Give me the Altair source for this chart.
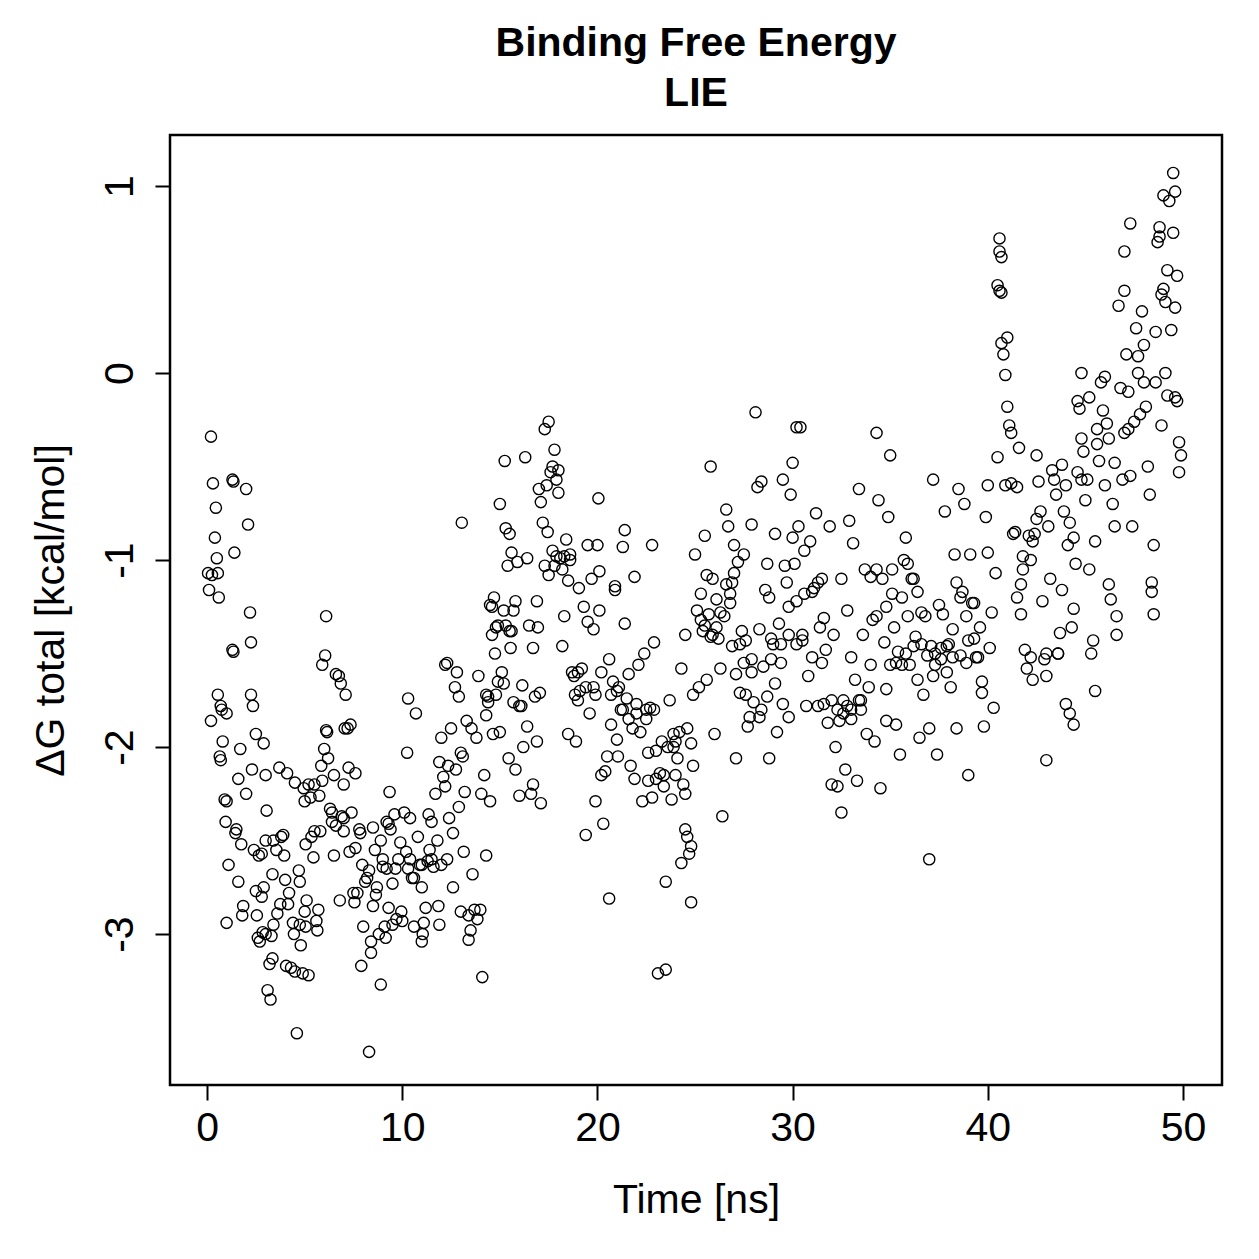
import altair as alt
import pandas as pd

# (time [ns], dG [kcal/mol]) pairs, grouped by time range
pts_00_05 = [
    (0.05,-1.07),(0.1,-1.16),(0.2,-0.34),(0.25,-1.08),(0.3,-0.59),(0.4,-0.88),(0.45,-0.72),(0.5,-0.99),
    (0.55,-1.07),(0.6,-1.2),(0.2,-1.86),(0.55,-1.72),(0.7,-1.78),(0.75,-1.8),(0.65,-2.05),(0.7,-2.07),
    (0.8,-1.97),(1.0,-1.82),(0.9,-2.28),(1.0,-2.29),(0.95,-2.4),(1.0,-2.94),(1.1,-2.63),
    (1.3,-0.57),(1.35,-0.58),(1.4,-0.96),(1.3,-1.48),(1.35,-1.49),(1.5,-2.44),(1.45,-2.46),(1.6,-2.17),
    (1.7,-2.01),(1.6,-2.72),(1.75,-2.52),(1.8,-2.9),(1.85,-2.85),(2.0,-0.62),(2.1,-0.81),(2.2,-1.28),
    (2.25,-1.44),(2.25,-1.72),(2.35,-1.78),(2.3,-2.12),(2.0,-2.25),
    (2.4,-2.55),(2.5,-2.77),(2.55,-2.9),(2.6,-3.02),(2.7,-3.04),(2.5,-1.93),(2.65,-2.58),(2.8,-2.57),
    (2.8,-2.8),(2.85,-2.99),(3.0,-3.0),(2.9,-1.98),(3.0,-2.15),(3.05,-2.34),(2.9,-2.75),(3.2,-3.16),
    (3.3,-3.01),(3.35,-3.13),(3.4,-2.95),(3.1,-3.3),(3.25,-3.35),(3.35,-2.68),(3.0,-2.5),
    (3.4,-2.5),(3.55,-2.55),(3.6,-2.89),(3.7,-2.11),(3.75,-2.84),(3.8,-2.48),(3.9,-2.47),(3.95,-2.58),
    (4.0,-2.71),(4.05,-3.17),(4.1,-2.14),(4.15,-2.84),(4.2,-2.78),(4.3,-3.18),(4.4,-2.94),(4.45,-3.0),
    (4.5,-2.19),(4.5,-3.2),(4.6,-3.53),(4.7,-2.66),(4.75,-2.72),(4.75,-2.95),(4.8,-3.06),(4.9,-3.21),
    (4.95,-2.22),(5.0,-2.29),(5.05,-2.52),(5.1,-2.82),(5.0,-2.88),(5.05,-2.96),(5.2,-3.22),
]
pts_05_10 = [
    (5.2,-2.2),(5.3,-2.27),(5.35,-2.48),(5.45,-2.59),(5.5,-2.2),(5.6,-2.93),(5.65,-2.98),(5.7,-2.87),
    (5.75,-2.26),(5.8,-2.45),(5.85,-2.1),(5.9,-2.18),(5.9,-1.56),(6.05,-1.51),(6.1,-1.3),(6.0,-2.01),
    (6.1,-1.91),(6.15,-1.92),(6.2,-2.06),(6.3,-2.33),(6.4,-2.35),(6.5,-2.58),(6.5,-2.15),(6.4,-2.4),
    (5.5,-2.45),(6.6,-2.42),(7.0,-2.2),
    (6.6,-1.61),(6.75,-1.62),(6.85,-1.66),(6.9,-2.37),(7.0,-2.38),(7.0,-2.45),(6.8,-2.82),(7.05,-1.9),
    (7.1,-1.72),(7.2,-1.9),(7.25,-2.11),(7.3,-2.56),(7.35,-1.88),(7.4,-2.35),(7.5,-2.78),(7.6,-2.54),
    (7.55,-2.83),(7.6,-2.14),(7.7,-2.78),(7.8,-2.44),(7.85,-2.46),(7.9,-3.17),(8.0,-2.96),(7.95,-2.63),
    (8.1,-2.72),(8.5,-2.85),(9.2,-2.65),
    (8.2,-2.7),(8.3,-2.66),(8.3,-3.63),(8.4,-3.04),(8.4,-3.1),(8.5,-2.43),(8.6,-2.55),(8.65,-2.79),
    (8.7,-2.75),(8.8,-3.0),(8.9,-3.27),(8.9,-2.5),(9.0,-2.64),(9.0,-2.6),(9.1,-2.96),(9.15,-3.02),
    (9.2,-2.4),(9.3,-2.41),(9.35,-2.24),(9.3,-2.86),(9.4,-2.44),(9.5,-2.73),(9.5,-2.95),(9.6,-2.36),
    (9.65,-2.65),(9.7,-2.92),(9.8,-2.6),(9.9,-2.51),(9.95,-2.88),(10.0,-2.93),
]
pts_10_15 = [
    (10.1,-2.35),(10.2,-2.56),(10.25,-2.03),(10.3,-1.74),(10.4,-2.38),(10.4,-2.6),(10.5,-2.7),(10.6,-2.7),
    (10.6,-2.96),(10.7,-1.82),(10.8,-2.48),(10.9,-2.63),(11.0,-2.63),(11.0,-3.04),(11.05,-3.0),(11.1,-2.94),
    (11.2,-2.86),(11.3,-2.61),(11.35,-2.36),(11.4,-2.55),(11.5,-2.6),(11.6,-2.64),(11.7,-2.25),(11.8,-2.5),
    (11.85,-2.85),(11.9,-2.95),(12.0,-2.63),(10.3,-2.65),(11.0,-2.75),(11.5,-2.4),(12.3,-2.6),(12.6,-2.75),
    (11.9,-2.08),(12.0,-1.95),(12.1,-2.16),(12.2,-1.56),(12.2,-2.21),(12.3,-1.55),(12.35,-2.1),(12.4,-2.38),
    (12.5,-1.9),(12.6,-2.46),(12.7,-1.68),(12.75,-2.12),(12.8,-1.6),(12.9,-1.73),(12.9,-2.32),(13.0,-2.03),
    (13.0,-2.88),(13.05,-0.8),(13.1,-2.05),(13.15,-2.56),(13.2,-2.24),(13.3,-1.86),(13.4,-2.9),(13.4,-3.03),
    (13.5,-2.98),(13.55,-1.9),(13.6,-2.68),(13.7,-2.87),(13.8,-1.95),(13.85,-2.92),(13.9,-1.62),(14.0,-2.87),
    (14.05,-2.25),(14.1,-3.23),(14.2,-2.15),(14.3,-2.58),(14.4,-1.76),
    (14.3,-1.83),(14.4,-1.73),(14.5,-1.24),(14.5,-2.29),(14.6,-1.4),(14.65,-1.93),(14.7,-1.2),(14.75,-1.5),
    (14.8,-1.36),(14.9,-1.65),(15.0,-0.7),(15.0,-1.92),
    (14.6,-1.25),(14.9,-1.35),(14.3,-1.72),(14.8,-1.72),
]
pts_15_20 = [
    (15.1,-1.6),(15.2,-1.27),(15.25,-0.47),(15.3,-0.83),(15.4,-1.03),(15.45,-2.06),(15.5,-0.86),(15.5,-1.38),
    (15.55,-1.47),(15.6,-0.96),(15.7,-1.27),(15.7,-1.76),(15.8,-1.22),(15.8,-2.12),(15.9,-1.01),(16.0,-1.78),
    (16.0,-2.26),(16.1,-1.78),(16.15,-1.67),(16.2,-2.0),(16.3,-0.45),(16.4,-0.99),(16.4,-1.89),(16.5,-1.35),
    (16.6,-2.25),(16.7,-1.47),(16.7,-2.2),(16.8,-1.73),(16.9,-1.22),(16.9,-1.97),(16.95,-1.36),
    (15.3,-1.35),(15.6,-1.38),(15.2,-1.66),
    (17.0,-0.62),(17.1,-0.69),(17.05,-1.71),(17.1,-2.3),(17.2,-0.8),(17.3,-0.3),(17.3,-1.03),(17.4,-0.6),
    (17.45,-0.85),(17.5,-0.26),(17.5,-1.08),(17.6,-0.53),(17.7,-0.5),(17.7,-0.95),(17.8,-1.03),(17.8,-0.41),
    (17.9,-0.57),(18.0,-0.52),(18.0,-0.64),(18.1,-0.99),(18.2,-1.05),(18.2,-1.46),(18.3,-1.3),(18.4,-0.89),
    (18.5,-1.11),(18.5,-1.93),(18.6,-1.0),(18.7,-1.6),(18.8,-1.62),(18.85,-1.72),(18.9,-1.97),(19.0,-1.75),
    (19.05,-1.15),(19.1,-1.7),(19.2,-1.58),(19.3,-1.25),(19.4,-2.47),(19.5,-0.92),
    (17.9,-0.98),(18.3,-0.98),(18.6,-0.97),(19.0,-1.6),(19.4,-1.68),(19.8,-1.68),
    (19.5,-1.33),(19.6,-1.82),(19.7,-1.1),(19.8,-1.37),(19.9,-1.72),(19.9,-2.29),(20.0,-0.92),
]
pts_20_25 = [
    (20.05,-0.67),(20.1,-1.06),(20.1,-1.27),(20.2,-2.15),(20.3,-2.41),(20.4,-2.13),(20.5,-2.05),(20.6,-1.53),
    (20.6,-2.81),(20.7,-1.88),(20.8,-1.65),(20.9,-1.16),(20.9,-1.14),(21.0,-1.96),(21.05,-2.05),(21.1,-1.68),
    (21.2,-1.8),(21.3,-0.93),(21.4,-0.84),(21.4,-1.34),(21.5,-1.74),(21.6,-1.61),(21.7,-2.1),(21.8,-1.9),
    (21.9,-2.17),(21.9,-1.09),(22.0,-1.77),(22.1,-1.56),(22.2,-1.92),
    (20.2,-1.6),(20.7,-1.72),(21.0,-1.7),(21.3,-1.8),(21.6,-1.85),(22.0,-1.82),(22.5,-1.85),(22.9,-1.8),
    (23.0,-2.02),(22.6,-2.18),(23.4,-2.15),(23.9,-2.0),(24.0,-2.15),(24.5,-2.25),(24.8,-1.98),
    (22.3,-2.29),(22.4,-1.5),(22.5,-1.8),(22.6,-2.03),(22.7,-1.79),(22.8,-0.92),(22.8,-2.27),(22.9,-1.44),
    (23.0,-2.17),(23.1,-3.21),(23.2,-2.14),(23.3,-1.97),(23.4,-2.21),(23.5,-3.19),(23.5,-2.72),(23.6,-2.0),
    (23.7,-1.75),(23.8,-2.28),(23.9,-1.93),(24.0,-1.97),(24.1,-2.06),(24.2,-1.92),(24.3,-1.58),(24.3,-2.62),
    (24.4,-2.2),(24.5,-2.44),(24.6,-2.48),(24.7,-2.57),(24.8,-2.53),(24.8,-2.83),(24.9,-2.1),
    (24.5,-1.4),(24.6,-1.9),(24.9,-1.72),(25.0,-0.97),
]
pts_25_30 = [
    (25.1,-1.27),(25.2,-1.68),(25.3,-1.18),(25.3,-1.32),(25.4,-1.38),(25.5,-0.87),(25.6,-1.08),(25.6,-1.64),
    (25.7,-1.29),(25.8,-0.5),(25.8,-1.41),(25.9,-1.1),(26.0,-1.93),(26.1,-1.21),(26.1,-1.36),(26.2,-1.42),
    (26.3,-1.58),(26.4,-2.37),(26.5,-1.3),(26.6,-1.13),(26.6,-0.73),(26.7,-0.82),(26.8,-1.23),(26.8,-1.18),
    (26.9,-1.46),(27.0,-1.07),(27.0,-0.92),(27.1,-1.61),(27.1,-2.06),(27.2,-1.01),
    (25.5,-1.35),(25.9,-1.4),(26.3,-1.28),(26.9,-1.12),(27.3,-1.45),(27.6,-1.72),(27.9,-1.6),
    (27.3,-1.71),(27.4,-1.38),(27.5,-1.55),(27.5,-0.97),(27.6,-1.43),(27.7,-1.89),(27.8,-1.84),(27.9,-0.81),
    (27.9,-1.53),(28.0,-1.76),(28.1,-0.21),(28.2,-0.61),(28.3,-1.37),(28.3,-1.84),(28.4,-0.58),(28.5,-1.57),
    (28.6,-1.16),(28.7,-1.02),(28.7,-1.73),(28.8,-1.2),(28.8,-2.06),(28.9,-1.53),(29.0,-1.45),(29.1,-0.86),
    (29.1,-1.66),(29.2,-1.92),(28.4,-1.8),(28.9,-1.42),(29.4,-1.55),(29.8,-1.4),
    (29.3,-1.34),(29.4,-1.45),(29.5,-0.57),(29.5,-1.77),(29.6,-1.03),(29.7,-1.12),(29.8,-1.25),(29.8,-1.84),
    (29.9,-0.65),(30.0,-0.48),(30.0,-0.88),
]
pts_30_35 = [
    (30.1,-1.02),(30.2,-0.29),(30.2,-1.22),(30.3,-0.82),(30.4,-0.29),(30.5,-1.4),(30.5,-1.43),(30.6,-0.95),
    (30.7,-1.78),(30.8,-1.62),(30.9,-0.9),(31.0,-1.17),(31.0,-1.52),(31.1,-1.15),(31.2,-0.75),(31.3,-1.78),
    (31.4,-1.36),(31.5,-1.1),(31.5,-1.55),(30.2,-1.45),(30.6,-1.18),(31.3,-1.12),
    (31.6,-1.31),(31.7,-1.48),(31.8,-1.87),(31.9,-0.82),(32.0,-2.2),(32.0,-1.75),(32.1,-1.4),(32.2,-2.0),
    (32.3,-2.21),(32.4,-1.86),(32.5,-2.35),(32.5,-1.1),(32.6,-1.82),(32.7,-2.12),(32.8,-1.27),(32.8,-1.78),
    (32.9,-0.79),(33.0,-1.85),(33.0,-1.52),(33.1,-0.91),(33.2,-1.64),(33.3,-2.18),(33.4,-0.62),(33.4,-1.75),
    (31.6,-1.77),(32.3,-1.8),(32.6,-1.75),(33.0,-1.8),(33.5,-1.75),
    (33.5,-1.8),(33.6,-1.4),(33.7,-1.05),(33.8,-1.93),(33.9,-1.68),(34.0,-1.09),(34.0,-1.56),(34.1,-1.32),
    (34.2,-1.97),(34.3,-0.32),(34.3,-1.05),(34.4,-0.68),(34.5,-2.22),(34.6,-1.1),(34.7,-1.44),(34.8,-1.69),
    (34.8,-1.86),(34.9,-0.77),(35.0,-0.44),(35.0,-1.56),(34.3,-1.3),(34.8,-1.25),
]
pts_35_40 = [
    (35.1,-1.18),(35.2,-1.36),(35.3,-1.88),(35.4,-1.49),(35.5,-2.04),
    (35.1,-1.05),(35.3,-1.55),(35.8,-1.5),(35.9,-1.02),
    (35.6,-1.2),(35.6,-1.56),(35.7,-1.0),(35.8,-0.88),(35.9,-1.3),(36.0,-1.56),(36.1,-1.1),(36.2,-1.46),
    (36.3,-1.41),(36.4,-1.64),(36.4,-1.17),(36.5,-1.95),(36.6,-1.45),(36.7,-1.72),(36.8,-1.3),(36.9,-1.51),
    (37.0,-2.6),(37.0,-1.9),(37.1,-1.46),(37.2,-0.57),(37.3,-1.5),(37.3,-1.56),(37.4,-2.04),(37.5,-1.24),
    (36.2,-1.1),(36.6,-1.28),(37.2,-1.62),(37.6,-1.47),(37.9,-1.6),(38.2,-1.52),(38.6,-1.2),(38.9,-1.55),
    (39.3,-1.42),
    (37.6,-1.53),(37.7,-1.29),(37.8,-0.74),(37.9,-1.46),(38.0,-1.45),(38.1,-1.68),(38.2,-1.37),(38.3,-0.97),
    (38.4,-1.12),(38.4,-1.9),(38.5,-0.62),(38.6,-1.51),(38.7,-1.17),(38.8,-0.7),(38.9,-1.3),(39.0,-1.43),
    (39.0,-2.15),(39.1,-0.97),(39.2,-1.23),(39.3,-1.23),(39.4,-1.52),(39.5,-1.52),(39.6,-1.36),(39.7,-1.71),
    (39.7,-1.65),(39.8,-1.89),(39.9,-0.77),(40.0,-0.96),(40.0,-0.6),
]
pts_40_45 = [
    (40.1,-1.47),(40.2,-1.28),
    (40.3,-1.79),(40.4,-1.07),(40.5,-0.45),(40.6,0.72),(40.6,0.65),(40.7,0.62),(40.5,0.47),(40.6,0.44),
    (40.7,0.43),(40.7,0.16),(40.8,0.1),(40.9,-0.01),(41.0,0.19),(41.0,-0.18),(41.1,-0.28),(41.2,-0.32),
    (41.2,-0.59),(41.3,-0.86),(41.4,-0.85),(41.5,-0.61),(41.6,-0.4),(41.7,-1.13),(41.7,-1.29),(41.8,-1.05),
    (41.9,-1.48),(42.0,-1.58),(42.1,-0.87),(42.2,-1.0),(42.3,-1.64),(42.4,-0.86),(42.5,-0.78),
    (40.9,-0.6),(41.5,-1.2),(41.8,-0.98),(42.3,-0.9),
    (42.5,-0.44),(42.6,-0.58),(42.7,-0.74),(42.8,-1.22),(42.9,-1.53),(43.0,-1.62),(43.0,-2.07),(43.1,-0.82),
    (43.2,-1.1),(43.3,-0.52),(43.4,-0.57),(43.5,-0.65),(43.6,-1.5),(43.7,-1.39),(43.8,-1.16),(43.8,-0.49),
    (43.9,-0.74),(44.0,-1.77),(44.1,-0.92),(44.2,-0.8),(44.2,-1.82),(44.3,-1.36),(44.4,-1.26),(44.4,-1.88),
    (44.5,-1.02),(44.6,-0.53),
    (42.2,-1.52),(43.0,-1.5),(43.6,-1.5),(44.0,-0.6),(44.4,-0.88),(44.8,-0.35),
]
pts_45_50 = [
    (44.6,-0.15),(44.7,-0.19),(44.8,0.0),(44.8,-0.57),(44.9,-0.42),(45.0,-0.68),(45.1,-0.57),(45.2,-0.13),
    (45.2,-1.05),(45.3,-1.5),(45.4,-1.43),(45.5,-0.9),(45.5,-1.7),(45.6,-0.3),(45.7,-0.47),(45.8,-0.05),
    (45.9,-0.2),(46.0,-0.02),(46.1,-0.27),(46.2,-0.35),(46.2,-1.13),(46.3,-1.21),(46.4,-0.7),(46.5,-0.82),
    (46.6,-1.4),(46.6,-1.3),(45.6,-0.38),(46.0,-0.6),(46.5,-0.48),(47.0,-0.32),
    (46.7,0.36),(46.8,-0.08),(46.9,-0.57),(47.0,0.65),(47.0,0.44),(47.1,0.1),(47.2,-0.1),(47.2,-0.3),
    (47.3,0.8),(47.3,-0.55),(47.4,-0.82),(47.5,-0.26),(47.6,0.24),(47.7,0.0),(47.7,0.09),(47.8,-0.22),
    (47.9,0.33),(48.0,0.15),(48.0,-0.05),(48.1,-0.18),(48.2,-0.5),(48.3,-0.65),(48.4,-1.12),(48.4,-1.17),
    (48.5,-1.29),(48.5,-0.92),
    (48.6,0.22),(48.7,0.7),(48.8,0.78),(48.8,0.73),(48.9,0.42),(49.0,0.95),(49.0,0.45),(49.1,0.38),
    (49.2,0.55),(49.3,0.92),(49.4,0.23),(49.5,0.75),(49.5,1.07),(49.6,0.97),(49.6,0.35),(49.7,0.52),
    (49.7,-0.15),(49.8,-0.37),(49.8,-0.53),(49.9,-0.44),(49.6,-0.13),(49.2,-0.12),(49.1,0.0),(48.9,-0.28),
    (48.6,-0.05),
]

x_ticks = [0, 10, 20, 30, 40, 50]
y_ticks = [-3, -2, -1, 0, 1]

all_pts = (pts_00_05 + pts_05_10 + pts_10_15 + pts_15_20 + pts_20_25 +
           pts_25_30 + pts_30_35 + pts_35_40 + pts_40_45 + pts_45_50)
df = pd.DataFrame(all_pts, columns=["time", "dG"])

FONT = "Liberation Sans"
FS = 41

chart = alt.Chart(df).mark_point(
    shape="circle", filled=False, color="black", size=125, strokeWidth=1.4, opacity=1
).encode(
    x=alt.X("time:Q",
            scale=alt.Scale(domain=[-1.9, 52.0], nice=False, zero=False),
            axis=alt.Axis(values=x_ticks, title="Time [ns]", grid=False, domain=False,
                          tickSize=15, tickWidth=2, tickColor="black",
                          labelFontSize=FS, labelFont=FONT, labelColor="black", labelPadding=8,
                          labelExpr="datum.value",
                          titleFontSize=FS, titleFont=FONT, titleFontWeight="normal",
                          titleColor="black", titlePadding=32)),
    y=alt.Y("dG:Q",
            scale=alt.Scale(domain=[-3.807, 1.273], nice=False, zero=False),
            axis=alt.Axis(values=y_ticks, title="ΔG total [kcal/mol]", grid=False, domain=False,
                          tickSize=15, tickWidth=2, tickColor="black",
                          labelFontSize=FS, labelFont=FONT, labelColor="black",
                          labelAngle=270, labelAlign="center", labelBaseline="bottom", labelPadding=14,
                          labelExpr="datum.value",
                          titleFontSize=FS, titleFont=FONT, titleFontWeight="normal",
                          titleColor="black", titlePadding=27)),
).properties(
    width=1052,
    height=950,
    title=alt.TitleParams(text=["Binding Free Energy", "LIE"], font=FONT, fontSize=FS,
                          fontWeight="bold", color="black", anchor="middle",
                          lineHeight=50, offset=20),
    autosize=alt.AutoSizeParams(type="none"),
    padding={"left": 170, "top": 135, "right": 37, "bottom": 174},
).configure(
    background="white",
    view=alt.ViewConfig(stroke="black", strokeWidth=2.5),
)

chart.save("out.html", embed_options={"renderer": "svg", "actions": False})
